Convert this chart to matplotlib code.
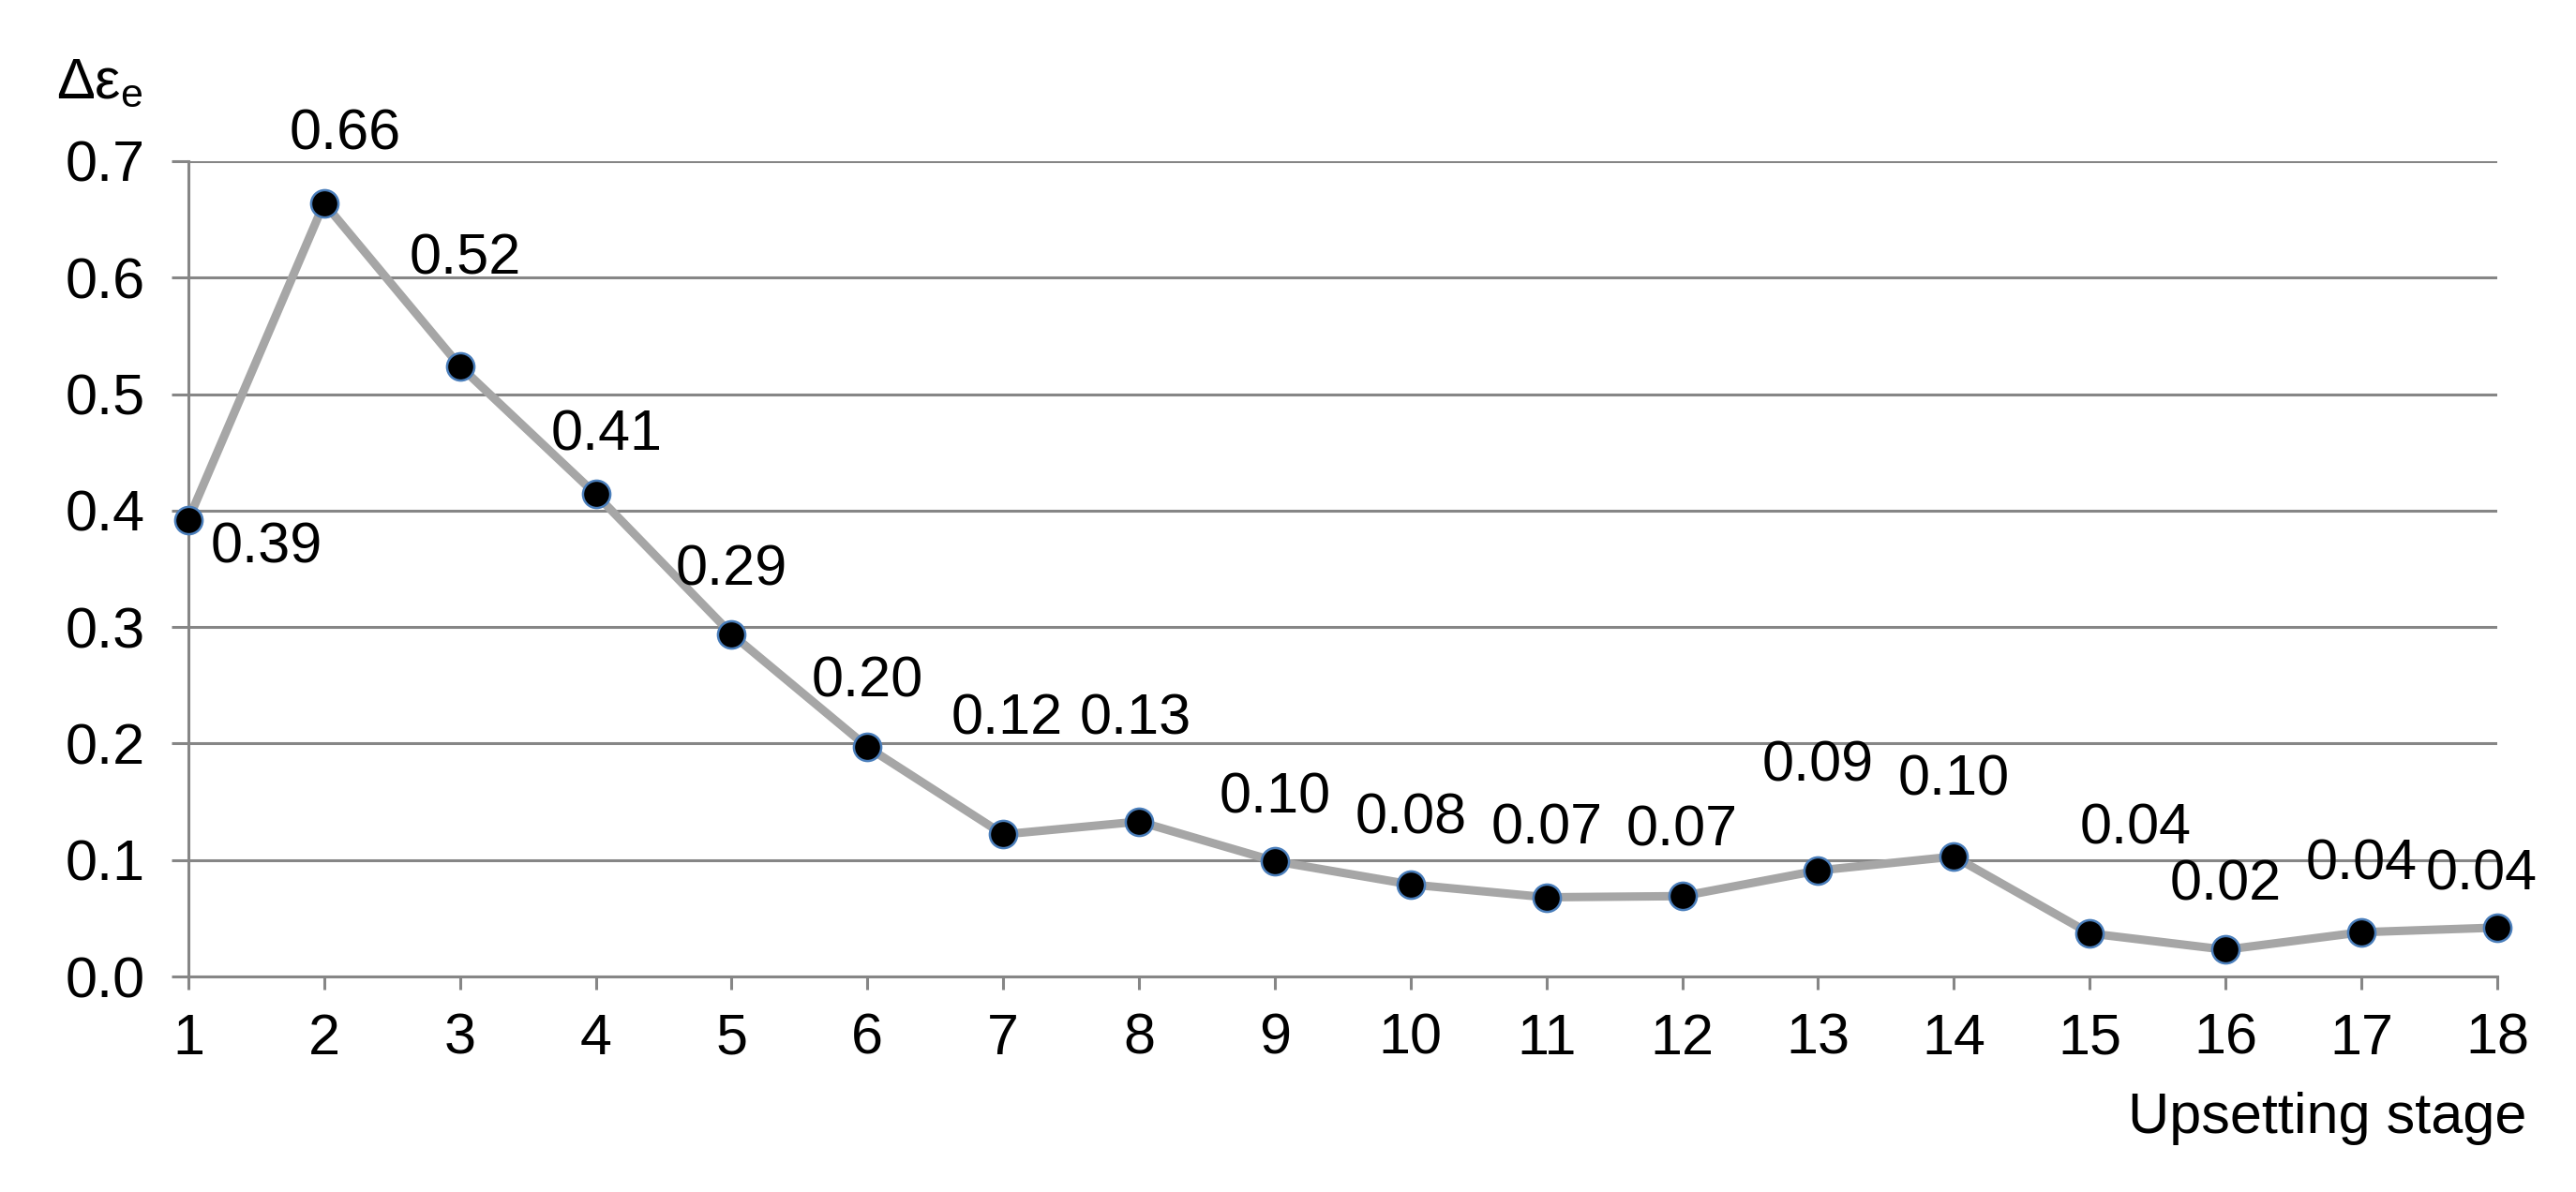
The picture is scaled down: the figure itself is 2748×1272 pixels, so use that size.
import matplotlib
matplotlib.use('Agg')
import matplotlib.pyplot as plt

plt.rcParams['font.family'] = ['Liberation Sans', 'DejaVu Sans']
plt.rcParams['mathtext.default'] = 'regular'

# data
stages = list(range(1, 19))
delta_eps = [0.392, 0.664, 0.524, 0.414, 0.294, 0.197, 0.122, 0.133, 0.099,
             0.079, 0.068, 0.069, 0.091, 0.103, 0.037, 0.023, 0.038, 0.042]
y_ticks = [0.0, 0.1, 0.2, 0.3, 0.4, 0.5, 0.6, 0.7]

# label offsets (points) relative to each marker, +y is up
label_offsets = [(60, -22), (16, 52), (4, 82), (8, 45), (0, 49), (0, 50),
                 (3, 88), (-3, 78), (0, 48), (0, 50), (0, 52), (0, 50),
                 (0, 80), (0, 58), (35, 80), (0, 49), (0, 52), (-12, 40)]

fs = 44
grid_c = '#868686'

fig = plt.figure(figsize=(27.48, 12.72), dpi=100)
ax = fig.add_axes([0.0731, 0.1808, 0.8963, 0.684])

ax.plot(stages, delta_eps, color='#a6a6a6', lw=6.5, zorder=3,
        marker='o', markersize=21, markerfacecolor='black',
        markeredgecolor='#4a7ebb', markeredgewidth=1.8, clip_on=False)

for x, v, off in zip(stages, delta_eps, label_offsets):
    ax.annotate('%.2f' % v, (x, v), xytext=off, textcoords='offset points',
                ha='center', va='center', fontsize=fs, color='black', zorder=4)

ax.set_xlim(1, 18)
ax.set_ylim(0, 0.7)
ax.set_xticks(stages)
ax.set_yticks(y_ticks)
ax.set_yticklabels(['%.1f' % t for t in y_ticks])
ax.yaxis.grid(True, color=grid_c, lw=2.2)
ax.set_axisbelow(True)

for s in ['top', 'right']:
    ax.spines[s].set_visible(False)
for s in ['left', 'bottom']:
    ax.spines[s].set_color(grid_c)
    ax.spines[s].set_linewidth(2.2)

ax.tick_params(axis='x', direction='out', length=10, width=2.2, color=grid_c,
               labelsize=fs, pad=18)
ax.tick_params(axis='y', direction='out', length=13, width=2.2, color=grid_c,
               labelsize=fs, pad=20)

fig.text(0.981, 0.062, 'Upsetting stage', ha='right', va='center', fontsize=fs)
fig.text(0.022, 0.93, 'Δε$_{e}$', ha='left', va='center', fontsize=fs)

plt.savefig('out.png', dpi=100)
